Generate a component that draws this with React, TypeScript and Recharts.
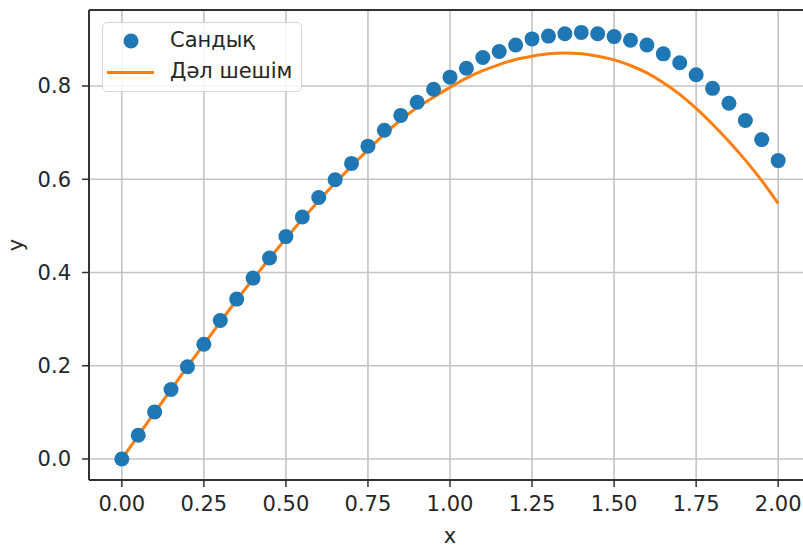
import { ComposedChart, Line, XAxis, YAxis, CartesianGrid, Legend } from 'recharts';

const xValues = [
  0, 0.05, 0.1, 0.15, 0.2, 0.25, 0.3, 0.35, 0.4, 0.45, 0.5, 0.55, 0.6, 0.65, 0.7, 0.75, 0.8, 0.85, 0.9, 0.95,
  1.0, 1.05, 1.1, 1.15, 1.2, 1.25, 1.3, 1.35, 1.4, 1.45, 1.5, 1.55, 1.6, 1.65, 1.7, 1.75, 1.8, 1.85, 1.9, 1.95, 2.0,
];

// Сандық (numerical solution)
const numericValues = [
  0, 0.051, 0.101, 0.149, 0.198, 0.246, 0.297, 0.343, 0.388, 0.431, 0.477, 0.519, 0.561, 0.599, 0.634, 0.671,
  0.705, 0.737, 0.765, 0.793, 0.819, 0.838, 0.861, 0.874, 0.888, 0.901, 0.907, 0.912, 0.915, 0.912, 0.906, 0.898,
  0.888, 0.869, 0.85, 0.824, 0.795, 0.763, 0.726, 0.685, 0.64,
];

// Дәл шешім (exact solution)
const exactValues = [
  0, 0.05, 0.1, 0.149, 0.198, 0.246, 0.294, 0.341, 0.386, 0.43, 0.473, 0.514, 0.554, 0.592, 0.628, 0.663,
  0.697, 0.727, 0.754, 0.776, 0.797, 0.817, 0.833, 0.846, 0.857, 0.864, 0.869, 0.871, 0.869, 0.864, 0.856, 0.844,
  0.828, 0.807, 0.782, 0.752, 0.718, 0.681, 0.641, 0.597, 0.548,
];

const xTicks = [0, 0.25, 0.5, 0.75, 1.0, 1.25, 1.5, 1.75, 2.0];
const yTicks = [0, 0.2, 0.4, 0.6, 0.8];

const data = xValues.map((x, i) => ({ x, numeric: numericValues[i], exact: exactValues[i] }));

const FONT = 'DejaVu Sans';
const FONT_SIZE = 21;
const BLUE = '#1f77b4';
const ORANGE = '#ff7f0e';
const SPINE = '#333333';
const TEXT = '#262626';

function LegendBox() {
  return (
    <div
      style={{
        position: 'relative',
        width: 200,
        height: 70,
        boxSizing: 'border-box',
        border: '1.5px solid #d6d6d6',
        borderRadius: 5,
        background: 'rgba(255,255,255,0.85)',
        fontFamily: FONT,
        fontSize: FONT_SIZE,
        color: TEXT,
      }}
    >
      <svg width={60} height={70} style={{ position: 'absolute', left: 0, top: 0 }}>
        <circle cx={28} cy={18} r={7.5} fill={BLUE} />
        <line x1={4} x2={51} y1={49.5} y2={49.5} stroke={ORANGE} strokeWidth={3} />
      </svg>
      <div style={{ position: 'absolute', left: 67, top: 4, lineHeight: '26px' }}>Сандық</div>
      <div style={{ position: 'absolute', left: 67, top: 35, lineHeight: '26px' }}>Дәл шешім</div>
    </div>
  );
}

// rotated "y" axis title, centred on the plot height
function YTitle({ viewBox }: any) {
  const cy = viewBox.y + viewBox.height / 2;
  return (
    <text
      x={16}
      y={cy}
      transform={`rotate(-90, 16, ${cy})`}
      textAnchor="middle"
      dominantBaseline="central"
      fontFamily={FONT}
      fontSize={FONT_SIZE}
      fill={TEXT}
    >
      y
    </text>
  );
}

export default function App() {
  return (
    <div style={{ position: 'absolute', left: 0, top: 0, width: 803, height: 547, overflow: 'hidden', background: '#fff' }}>
      <ComposedChart
        width={820}
        height={547}
        data={data}
        margin={{ top: 9, right: 9, bottom: 0, left: 0 }}
      >
        <CartesianGrid stroke="#c4c4c4" strokeWidth={1.6} horizontalValues={yTicks} verticalValues={xTicks} />
        <XAxis
          dataKey="x"
          type="number"
          domain={[-0.1, 2.1]}
          ticks={xTicks}
          tickFormatter={(v: number) => v.toFixed(2)}
          tick={{ fontFamily: FONT, fontSize: FONT_SIZE, fill: TEXT }}
          tickLine={{ stroke: SPINE, strokeWidth: 1.5 }}
          tickSize={7}
          tickMargin={9}
          axisLine={{ stroke: SPINE, strokeWidth: 2 }}
          height={67}
          allowDataOverflow
          label={{ value: 'x', position: 'insideBottom', offset: 4, fontFamily: FONT, fontSize: FONT_SIZE, fill: TEXT }}
        />
        <XAxis
          xAxisId="top"
          orientation="top"
          dataKey="x"
          type="number"
          domain={[-0.1, 2.1]}
          tick={false}
          tickLine={false}
          axisLine={{ stroke: SPINE, strokeWidth: 2 }}
          height={1}
        />
        <YAxis
          type="number"
          domain={[-0.045, 0.963]}
          ticks={yTicks}
          tickFormatter={(v: number) => v.toFixed(1)}
          tick={{ fontFamily: FONT, fontSize: FONT_SIZE, fill: TEXT }}
          tickLine={{ stroke: SPINE, strokeWidth: 1.5 }}
          tickSize={7}
          tickMargin={11}
          axisLine={{ stroke: SPINE, strokeWidth: 2 }}
          width={89}
          allowDataOverflow
          label={<YTitle />}
        />
        <Legend
          verticalAlign="middle"
          layout="horizontal"
          wrapperStyle={{ position: 'absolute', left: 102, top: 22, width: 200, height: 70 }}
          content={() => <LegendBox />}
        />
        <Line
          dataKey="numeric"
          name="Сандық"
          stroke="none"
          strokeWidth={0}
          dot={{ r: 7.5, fill: BLUE, stroke: 'none' }}
          activeDot={false}
          isAnimationActive={false}
        />
        <Line
          dataKey="exact"
          name="Дәл шешім"
          type="monotone"
          stroke={ORANGE}
          strokeWidth={3}
          dot={false}
          activeDot={false}
          isAnimationActive={false}
        />
      </ComposedChart>
    </div>
  );
}
